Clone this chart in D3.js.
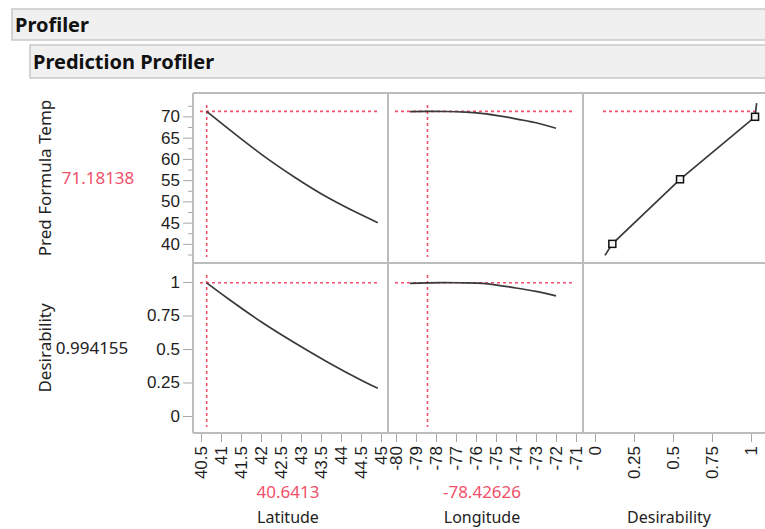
<!DOCTYPE html>
<html>
<head>
<meta charset="utf-8">
<script src="https://d3js.org/d3.v7.min.js"></script>
<style>
    body { margin: 0; background: #fff; }
    svg { display: block; font-family: "Noto Sans", "Open Sans", sans-serif; }
    .tick text { fill: #1e1e1e; font-size: 17px; }
    .tick line { stroke: #a8a8a8; }
    .domain { display: none; }
    .border { stroke: #bcbcbc; stroke-width: 2; fill: none; }
    .curve { fill: none; stroke: #3a3a3a; stroke-width: 1.7; }
    .ref { stroke: #f0506a; stroke-width: 1.6; stroke-dasharray: 3,3; }
</style>
</head>
<body>
<svg id="chart" width="765" height="529"></svg>
<script>
// current profiler settings
const currentLatitude = 40.6413;
const currentLongitude = -78.42626;
const currentTemp = 71.18138;
const currentDesir = 0.994155;

// profile traces
const latitude = [40.64, 41.18, 42.02, 42.85, 43.68, 44.52, 44.92];
const tempByLatitude = [71.18, 67.1, 61.0, 55.63, 50.85, 46.77, 44.99];
const desirByLatitude = [0.994, 0.875, 0.70, 0.545, 0.40, 0.265, 0.207];

const longitude = [-79.3, -78.4, -77.5, -76.5, -75.5, -74.2, -73.0, -72.0];
const tempByLongitude = [71.12, 71.18, 71.15, 71.0, 70.6, 69.6, 68.5, 67.2];
const desirByLongitude = [0.990, 0.994, 0.995, 0.994, 0.988, 0.960, 0.930, 0.896];

// desirability function (desirability on x, response on y)
const desirCurveD = [0.064, 0.111, 0.545, 1.026, 1.036];
const desirCurveTemp = [37.3, 40, 55.2, 69.9, 73.1];
const markerD = [0.111, 0.545, 1.026];
const markerTemp = [40, 55.2, 69.9];

// ticks
const tempTicks = [40, 45, 50, 55, 60, 65, 70];
const tempMinorTicks = [37.5, 42.5, 47.5, 52.5, 57.5, 62.5, 67.5, 72.5];
const desirTicks = [0, 0.25, 0.5, 0.75, 1];
const latTicks = [40.5, 41, 41.5, 42, 42.5, 43, 43.5, 44, 44.5, 45];
const lonTicks = [-80, -79, -78, -77, -76, -75, -74, -73, -72, -71];
const dTicks = [0, 0.25, 0.5, 0.75, 1];

const svg = d3.select("#chart");
const red = "#f0506a";

// header bars
svg.append("rect").attr("x", 12).attr("y", 9).attr("width", 770).attr("height", 31)
    .attr("fill", "#f0f0f0").attr("stroke", "#c8c8c8").attr("stroke-width", 1.5);
svg.append("text").attr("x", 15).attr("y", 32).text("Profiler")
    .attr("font-size", 20).attr("font-weight", "bold").attr("fill", "#111");
svg.append("rect").attr("x", 30).attr("y", 45).attr("width", 760).attr("height", 33)
    .attr("fill", "#f0f0f0").attr("stroke", "#c8c8c8").attr("stroke-width", 1.5);
svg.append("text").attr("x", 33).attr("y", 69).text("Prediction Profiler")
    .attr("font-size", 20).attr("font-weight", "bold").attr("fill", "#111");

// panel grid
const colX = [193, 388, 583, 778];
const rowY = [93, 263, 433];

const xLat = d3.scaleLinear().domain([40.3, 45.175]).range([colX[0], colX[1]]);
const xLon = d3.scaleLinear().domain([-80.4, -70.65]).range([colX[1], colX[2]]);
const xD = d3.scaleLinear().domain([-0.077, 1.173]).range([colX[2], colX[3]]);
const yTemp = d3.scaleLinear().domain([35.5, 75.5]).range([rowY[1], rowY[0]]);
const yDes = d3.scaleLinear().domain([-0.127, 1.142]).range([rowY[2], rowY[1]]);

// y axes
svg.append("g").attr("transform", `translate(${colX[0]},0)`)
    .call(d3.axisLeft(yTemp).tickValues(tempTicks).tickSize(10).tickPadding(3).tickFormat(d => String(d)));
svg.append("g").attr("transform", `translate(${colX[0]},0)`)
    .call(d3.axisLeft(yTemp).tickValues(tempMinorTicks).tickSize(5).tickFormat(""));
svg.append("g").attr("transform", `translate(${colX[0]},0)`)
    .call(d3.axisLeft(yDes).tickValues(desirTicks).tickSize(10).tickPadding(3).tickFormat(d => String(d)));

// x axes with vertical labels
function xAxis(scale, ticks) {
    const g = svg.append("g").attr("transform", `translate(0,${rowY[2]})`)
        .call(d3.axisBottom(scale).tickValues(ticks).tickSize(9).tickFormat(d => String(d)));
    g.selectAll(".tick text")
        .attr("transform", "rotate(-90)")
        .attr("text-anchor", "end")
        .attr("x", -13).attr("y", 0).attr("dy", "0.35em");
}
xAxis(xLat, latTicks);
xAxis(xLon, lonTicks);
xAxis(xD, dTicks);

// reference lines (current settings)
const refs = svg.append("g");
function vRef(x, r) {
    refs.append("line").attr("class", "ref").attr("x1", x).attr("x2", x)
        .attr("y1", rowY[r] + 12).attr("y2", rowY[r + 1] - 6);
}
function hRef(y, c) {
    refs.append("line").attr("class", "ref").attr("y1", y).attr("y2", y)
        .attr("x1", colX[c] + 7).attr("x2", colX[c + 1] - 10);
}
vRef(xLat(currentLatitude), 0); vRef(xLat(currentLatitude), 1);
vRef(xLon(currentLongitude), 0); vRef(xLon(currentLongitude), 1);
hRef(yTemp(currentTemp), 0); hRef(yTemp(currentTemp), 1);
refs.append("line").attr("class", "ref").attr("y1", yTemp(currentTemp)).attr("y2", yTemp(currentTemp))
    .attr("x1", colX[2] + 20).attr("x2", xD(desirCurveD[4]));
hRef(yDes(currentDesir), 0); hRef(yDes(currentDesir), 1);

// curves
const smooth = (xs, ys, sx, sy) => d3.line().curve(d3.curveNatural)
    .x((d, i) => sx(xs[i])).y((d, i) => sy(ys[i]))(xs);
svg.append("path").attr("class", "curve").attr("d", smooth(latitude, tempByLatitude, xLat, yTemp));
svg.append("path").attr("class", "curve").attr("d", smooth(latitude, desirByLatitude, xLat, yDes));
svg.append("path").attr("class", "curve").attr("d", smooth(longitude, tempByLongitude, xLon, yTemp));
svg.append("path").attr("class", "curve").attr("d", smooth(longitude, desirByLongitude, xLon, yDes));
svg.append("path").attr("class", "curve").attr("stroke-width", 1.3)
    .attr("d", d3.line().x((d, i) => xD(desirCurveD[i])).y((d, i) => yTemp(desirCurveTemp[i]))(desirCurveD));

svg.append("g").selectAll("rect").data(markerD).join("rect")
    .attr("x", (d) => xD(d) - 3.5).attr("y", (d, i) => yTemp(markerTemp[i]) - 3.5)
    .attr("width", 7).attr("height", 7)
    .attr("fill", "#f4f4f4").attr("stroke", "#111").attr("stroke-width", 1.5);

// panel borders
const borders = svg.append("g");
colX.slice(0, 3).forEach(x => borders.append("line").attr("class", "border")
    .attr("x1", x).attr("x2", x).attr("y1", rowY[0]).attr("y2", rowY[2]));
rowY.forEach(y => borders.append("line").attr("class", "border")
    .attr("x1", colX[0]).attr("x2", 765).attr("y1", y).attr("y2", y));

// row labels and current values
svg.append("text").attr("transform", `translate(51,${(rowY[0] + rowY[1]) / 2}) rotate(-90)`)
    .attr("text-anchor", "middle").attr("font-size", 17).attr("fill", "#222").text("Pred Formula Temp");
svg.append("text").attr("transform", `translate(51,${(rowY[1] + rowY[2]) / 2}) rotate(-90)`)
    .attr("text-anchor", "middle").attr("font-size", 17).attr("fill", "#222").text("Desirability");
svg.append("text").attr("x", 98).attr("y", (rowY[0] + rowY[1]) / 2).attr("dy", "0.35em")
    .attr("text-anchor", "middle").attr("font-size", 17).attr("fill", red).text(String(currentTemp));
svg.append("text").attr("x", 92).attr("y", (rowY[1] + rowY[2]) / 2).attr("dy", "0.35em")
    .attr("text-anchor", "middle").attr("font-size", 17).attr("fill", "#222").text(String(currentDesir));

// column labels and current values
svg.append("text").attr("x", 288).attr("y", 498).attr("text-anchor", "middle")
    .attr("font-size", 17).attr("fill", red).text(String(currentLatitude));
svg.append("text").attr("x", 482).attr("y", 498).attr("text-anchor", "middle")
    .attr("font-size", 17).attr("fill", red).text(String(currentLongitude));
const colLabels = [["Latitude", 288], ["Longitude", 482], ["Desirability", 669]];
colLabels.forEach(([t, x]) => svg.append("text").attr("x", x).attr("y", 523)
    .attr("text-anchor", "middle").attr("font-size", 16).attr("fill", "#222").text(t));
</script>
</body>
</html>
